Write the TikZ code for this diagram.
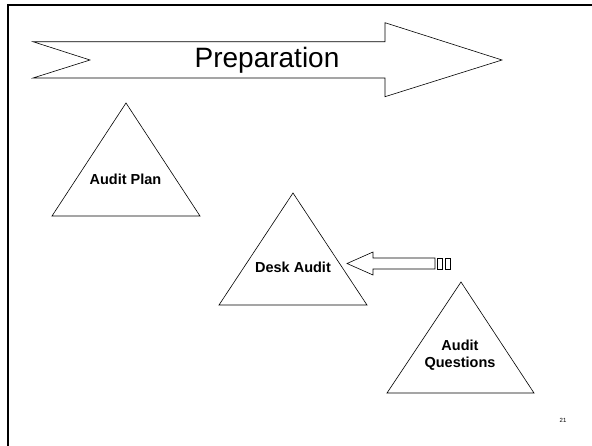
\documentclass[tikz,border=0pt]{standalone}
\usepackage{fontspec}
\setmainfont{Liberation Sans}
\begin{document}
\begin{tikzpicture}[x=1pt,y=-1pt,
  shapeline/.style={draw=black,line width=0.6pt,fill=white,line join=miter},
  tri/.style={draw=black,line width=0.6pt},
  trilabel/.style={font=\fontsize{14.5}{17}\selectfont\bfseries,align=center,inner sep=0pt},
  framestyle/.style={draw=black,line width=2.4pt}]
\useasboundingbox (0,0) rectangle (592,445);
\fill[white] (0,0) rectangle (592,445);
% slide frame
\draw[framestyle] (8,460) -- (8,5) -- (610,5);
% big notched arrow
\draw[shapeline] (33,41.7) -- (385,41.7) -- (385,22.7) -- (502,60) -- (385,96.7) -- (385,78) -- (33,78) -- (90,60) -- cycle;
\node[font=\fontsize{28}{32}\selectfont,inner sep=0pt] (prep) at (267,60) {Preparation};
% triangles
\draw[tri] (126,103) -- (200,216) -- (52,216) -- cycle;
\node[trilabel] (plan) at (125.5,179) {Audit Plan};
\draw[tri] (293,193) -- (367,305) -- (219,305) -- cycle;
\node[trilabel] (desk) at (293,267) {Desk Audit};
\draw[tri] (461,282) -- (534,393) -- (387,393) -- cycle;
\node[trilabel] (quest) at (460,355.5) {Audit\\Questions};
% striped arrow pointing left
\draw[shapeline] (347,263.5) -- (373,252) -- (373,258) -- (435,258) -- (435,269) -- (373,269) -- (373,275) -- cycle;
\draw[shapeline] (437.5,258) rectangle (442.5,269);
\draw[shapeline] (445.5,258) rectangle (450.5,269);
% page number
\node[font=\fontsize{6}{7}\selectfont,inner sep=0pt] (pnum) at (563,420) {21};
\end{tikzpicture}
\end{document}
